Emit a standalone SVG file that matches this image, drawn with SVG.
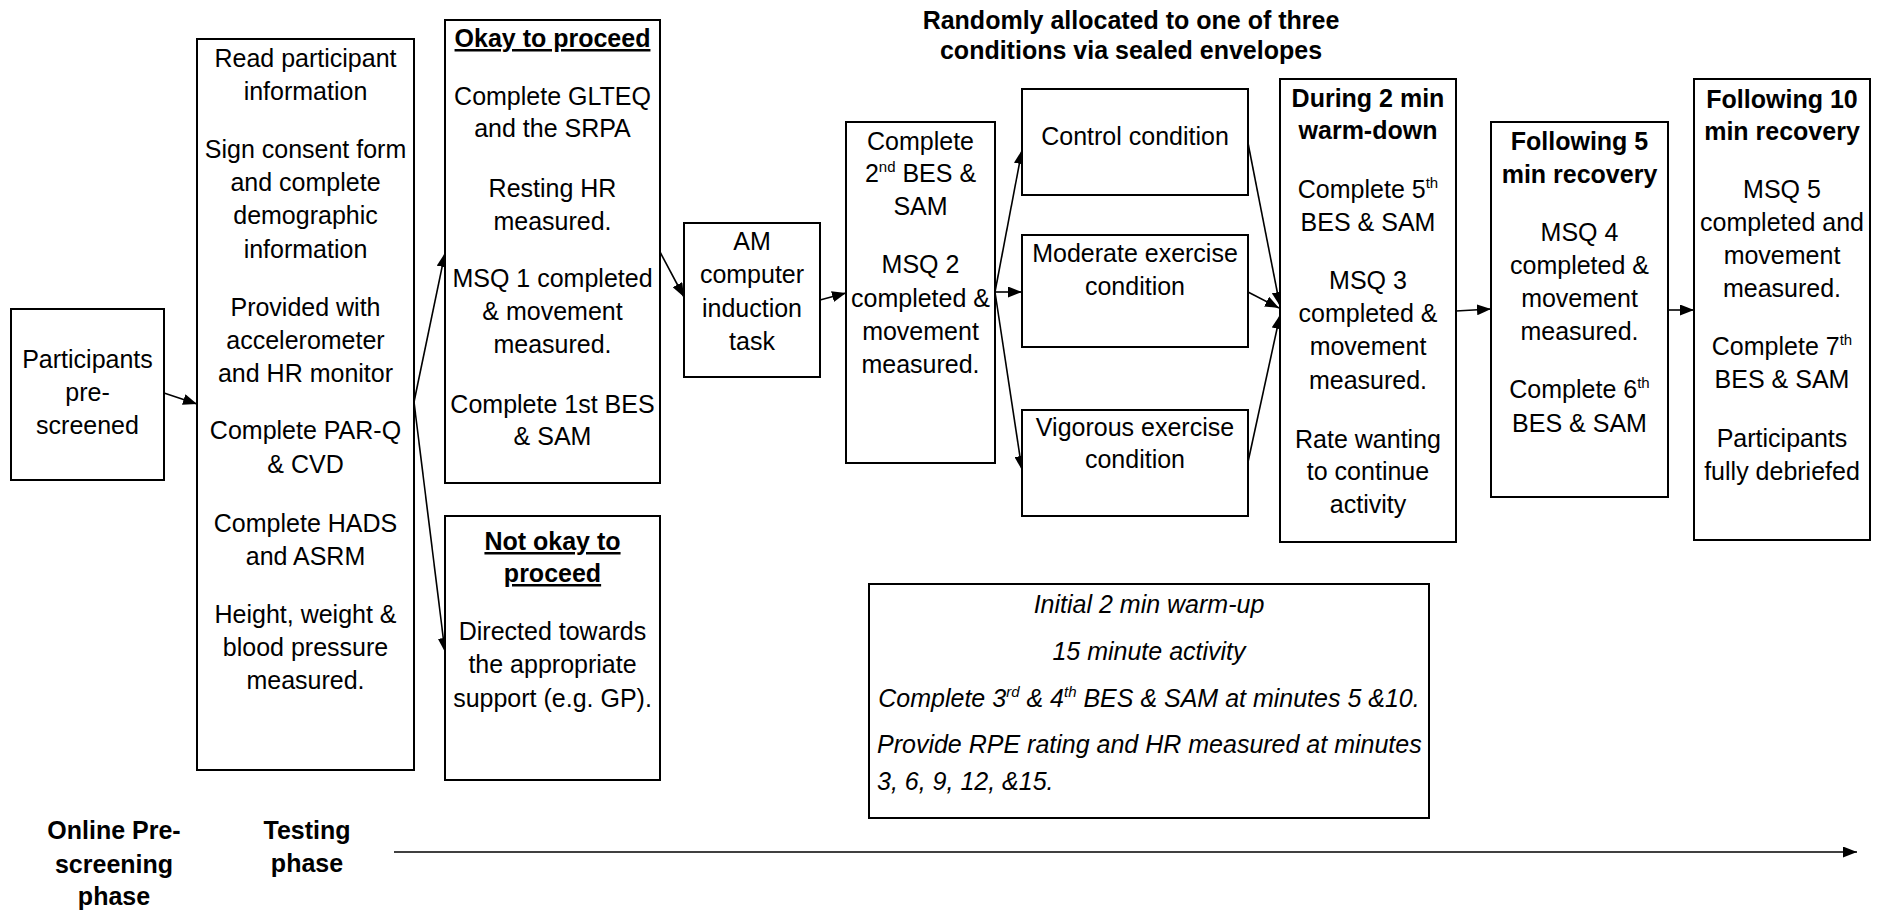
<svg xmlns="http://www.w3.org/2000/svg" width="1883" height="912" viewBox="0 0 1883 912">
<style>
text{font-family:"Liberation Sans",Arial,sans-serif;font-size:25px;fill:#000;text-anchor:middle}
.b{font-weight:bold}
.u{text-decoration:underline}
.i{font-style:italic}
.l{text-anchor:start}
.box{fill:#fff;stroke:#000;stroke-width:2}
.c{stroke:#000;stroke-width:1.6;fill:none;marker-end:url(#ah)}
.sup{font-size:15px}
</style>
<defs>
<marker id="ah" markerUnits="userSpaceOnUse" markerWidth="14" markerHeight="11" refX="14" refY="5.5" orient="auto">
<path d="M0,0 L14,5.5 L0,11 z" fill="#000"/>
</marker>
</defs>
<rect width="1883" height="912" fill="#fff"/>

<g id="title">
<text class="b" x="1131" y="29">Randomly allocated to one of three</text>
<text class="b" x="1131" y="59">conditions via sealed envelopes</text>
</g>

<g id="connectors">
<line class="c" x1="164" y1="393" x2="197" y2="404"/>
<line class="c" x1="414" y1="402" x2="445" y2="253"/>
<line class="c" x1="414" y1="402" x2="445" y2="652"/>
<line class="c" x1="660" y1="252" x2="684" y2="297"/>
<line class="c" x1="820" y1="300" x2="846" y2="293"/>
<line class="c" x1="995" y1="292" x2="1022" y2="150"/>
<line class="c" x1="995" y1="292" x2="1022" y2="292"/>
<line class="c" x1="995" y1="292" x2="1022" y2="470"/>
<line class="c" x1="1248" y1="143" x2="1280" y2="306"/>
<line class="c" x1="1248" y1="292" x2="1279" y2="308"/>
<line class="c" x1="1248" y1="462" x2="1280" y2="315"/>
<line class="c" x1="1456" y1="311" x2="1491" y2="309"/>
<line class="c" x1="1668" y1="310" x2="1694" y2="310"/>
<line class="c" x1="394" y1="852" x2="1857" y2="852"/>
</g>

<g id="n-prescreened">
<rect class="box" x="11" y="309" width="153" height="171"/>
<text x="87.5" y="368">Participants</text>
<text x="87.5" y="401">pre-</text>
<text x="87.5" y="434">screened</text>
</g>

<g id="n-testing">
<rect class="box" x="197" y="39" width="217" height="731"/>
<text x="305.5" y="67">Read participant</text>
<text x="305.5" y="100">information</text>
<text x="305.5" y="158">Sign consent form</text>
<text x="305.5" y="191">and complete</text>
<text x="305.5" y="224">demographic</text>
<text x="305.5" y="258">information</text>
<text x="305.5" y="316">Provided with</text>
<text x="305.5" y="349">accelerometer</text>
<text x="305.5" y="382">and HR monitor</text>
<text x="305.5" y="439">Complete PAR-Q</text>
<text x="305.5" y="473">&amp; CVD</text>
<text x="305.5" y="532">Complete HADS</text>
<text x="305.5" y="565">and ASRM</text>
<text x="305.5" y="623">Height, weight &amp;</text>
<text x="305.5" y="656">blood pressure</text>
<text x="305.5" y="689">measured.</text>
</g>

<g id="n-okay">
<rect class="box" x="445" y="20" width="215" height="463"/>
<text class="b u" x="552.5" y="47">Okay to proceed</text>
<text x="552.5" y="105">Complete GLTEQ</text>
<text x="552.5" y="137">and the SRPA</text>
<text x="552.5" y="197">Resting HR</text>
<text x="552.5" y="230">measured.</text>
<text x="552.5" y="287">MSQ 1 completed</text>
<text x="552.5" y="320">&amp; movement</text>
<text x="552.5" y="353">measured.</text>
<text x="552.5" y="413">Complete 1st BES</text>
<text x="552.5" y="445">&amp; SAM</text>
</g>

<g id="n-notokay">
<rect class="box" x="445" y="516" width="215" height="264"/>
<text class="b u" x="552.5" y="550">Not okay to</text>
<text class="b u" x="552.5" y="582">proceed</text>
<text x="552.5" y="640">Directed towards</text>
<text x="552.5" y="673">the appropriate</text>
<text x="552.5" y="707">support (e.g. GP).</text>
</g>

<g id="n-am">
<rect class="box" x="684" y="223" width="136" height="154"/>
<text x="752" y="250">AM</text>
<text x="752" y="283">computer</text>
<text x="752" y="317">induction</text>
<text x="752" y="350">task</text>
</g>

<g id="n-second">
<rect class="box" x="846" y="122" width="149" height="341"/>
<text x="920.5" y="150">Complete</text>
<text x="920.5" y="182">2<tspan class="sup" dy="-10">nd</tspan><tspan dy="10"> BES &amp;</tspan></text>
<text x="920.5" y="215">SAM</text>
<text x="920.5" y="273">MSQ 2</text>
<text x="920.5" y="307">completed &amp;</text>
<text x="920.5" y="340">movement</text>
<text x="920.5" y="373">measured.</text>
</g>

<g id="n-control">
<rect class="box" x="1022" y="89" width="226" height="106"/>
<text x="1135" y="145">Control condition</text>
</g>

<g id="n-moderate">
<rect class="box" x="1022" y="235" width="226" height="112"/>
<text x="1135" y="262">Moderate exercise</text>
<text x="1135" y="295">condition</text>
</g>

<g id="n-vigorous">
<rect class="box" x="1022" y="410" width="226" height="106"/>
<text x="1135" y="436">Vigorous exercise</text>
<text x="1135" y="468">condition</text>
</g>

<g id="n-warmdown">
<rect class="box" x="1280" y="79" width="176" height="463"/>
<text class="b" x="1368" y="107">During 2 min</text>
<text class="b" x="1368" y="139">warm-down</text>
<text x="1368" y="198">Complete 5<tspan class="sup" dy="-10">th</tspan></text>
<text x="1368" y="231">BES &amp; SAM</text>
<text x="1368" y="289">MSQ 3</text>
<text x="1368" y="322">completed &amp;</text>
<text x="1368" y="355">movement</text>
<text x="1368" y="389">measured.</text>
<text x="1368" y="448">Rate wanting</text>
<text x="1368" y="480">to continue</text>
<text x="1368" y="513">activity</text>
</g>

<g id="n-recovery5">
<rect class="box" x="1491" y="122" width="177" height="375"/>
<text class="b" x="1579.5" y="150">Following 5</text>
<text class="b" x="1579.5" y="183">min recovery</text>
<text x="1579.5" y="241">MSQ 4</text>
<text x="1579.5" y="274">completed &amp;</text>
<text x="1579.5" y="307">movement</text>
<text x="1579.5" y="340">measured.</text>
<text x="1579.5" y="398">Complete 6<tspan class="sup" dy="-10">th</tspan></text>
<text x="1579.5" y="432">BES &amp; SAM</text>
</g>

<g id="n-recovery10">
<rect class="box" x="1694" y="79" width="176" height="461"/>
<text class="b" x="1782" y="108">Following 10</text>
<text class="b" x="1782" y="140">min recovery</text>
<text x="1782" y="198">MSQ 5</text>
<text x="1782" y="231">completed and</text>
<text x="1782" y="264">movement</text>
<text x="1782" y="297">measured.</text>
<text x="1782" y="355">Complete 7<tspan class="sup" dy="-10">th</tspan></text>
<text x="1782" y="388">BES &amp; SAM</text>
<text x="1782" y="447">Participants</text>
<text x="1782" y="480">fully debriefed</text>
</g>

<g id="n-activity">
<rect class="box" x="869" y="584" width="560" height="234"/>
<text class="i" x="1149" y="613">Initial 2 min warm-up</text>
<text class="i" x="1149" y="660">15 minute activity</text>
<text class="i" x="1149" y="707">Complete 3<tspan class="sup" dy="-10">rd</tspan><tspan dy="10"> &amp; 4</tspan><tspan class="sup" dy="-10">th</tspan><tspan dy="10"> BES &amp; SAM at minutes 5 &amp;10.</tspan></text>
<text class="i l" x="877" y="753">Provide RPE rating and HR measured at minutes</text>
<text class="i l" x="877" y="790">3, 6, 9, 12, &amp;15.</text>
</g>

<g id="phase-labels">
<text class="b" x="114" y="839">Online Pre-</text>
<text class="b" x="114" y="873">screening</text>
<text class="b" x="114" y="905">phase</text>
<text class="b" x="307" y="839">Testing</text>
<text class="b" x="307" y="872">phase</text>
</g>
</svg>
